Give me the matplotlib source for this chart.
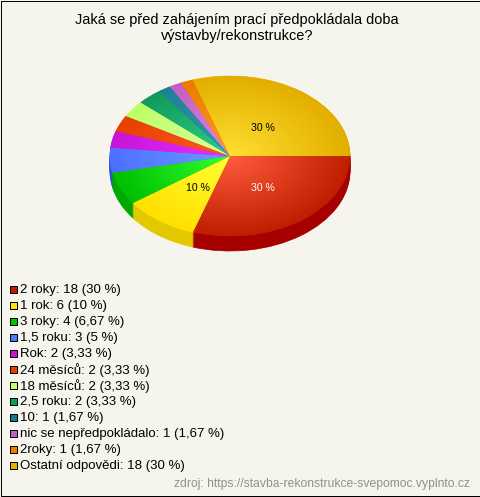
import matplotlib
matplotlib.use("Agg")
import matplotlib.pyplot as plt
import numpy as np
from matplotlib.colors import LinearSegmentedColormap
from matplotlib.patches import Rectangle

title = "Jaká se před zahájením prací předpokládala doba\nvýstavby/rekonstrukce?"
source = "zdroj: https://stavba-rekonstrukce-svepomoc.vyplnto.cz"
categories = ["2 roky", "1 rok", "3 roky", "1,5 roku", "Rok", "24 měsíců", "18 měsíců",
              "2,5 roku", "10", "nic se nepředpokládalo", "2roky", "Ostatní odpovědi"]
counts = [18, 6, 4, 3, 2, 2, 2, 2, 1, 1, 1, 18]
percents = ["30", "10", "6,67", "5", "3,33", "3,33", "3,33", "3,33", "1,67", "1,67", "1,67", "30"]
legend_colors = ["#bf1e00", "#ffe800", "#00c000", "#4d79ff", "#c814d8", "#e84000", "#c0ff70",
                 "#109a5c", "#1a7a96", "#c060c0", "#ee7a00", "#e6b000"]
center_colors = ["#ff5c3c", "#ffff33", "#33ff33", "#6c99ff", "#e533ff", "#ff5a22", "#dcff9c",
                 "#33cc88", "#3399aa", "#e088e8", "#ff9a22", "#ffe030"]
edge_colors = ["#bf1e00", "#ffe000", "#00bf00", "#4d70ff", "#c814d8", "#e84000", "#bcff66",
               "#109a5c", "#1f7f99", "#c060c0", "#ee7a00", "#e3ae00"]
side_colors = ["#a60000", "#e3c800", "#00a800", "#3355cc", "#a000b0", "#c03000", "#a0d860",
               "#0c7a48", "#156070", "#a040a0", "#c06000", "#c09000"]
shown_labels = {0: ("30 %", "white"), 1: ("10 %", "black"), 11: ("30 %", "black")}

W, H = 480, 497
bg = "#f5f4ed"
fig = plt.figure(figsize=(W / 100, H / 100), dpi=100, facecolor=bg)
plt.rcParams["font.family"] = ["Liberation Sans", "DejaVu Sans"]

# background axes in pixel coords, for the text and legend
page = fig.add_axes([0, 0, 1, 1])
page.set_xlim(0, W)
page.set_ylim(H, 0)
page.axis("off")
page.add_patch(Rectangle((0.5, 0.5), W - 1, H - 1.5, fill=False, ec="black", lw=0.72))
page.text(237, 28, title, ha="center", va="center", fontsize=10.45, linespacing=1.17)

# unit circle squeezed into an ellipse: x 110..350, y 76..236
cx, cy, rx, ry, depth = 230, 156, 120, 80, 15
ax = fig.add_axes([(cx - rx) / W, 1 - (cy + ry + depth) / H, 2 * rx / W, (2 * ry + depth) / H])
ax.patch.set_alpha(0)

for k in range(depth, 0, -1):
    walls, _ = ax.pie(counts, startangle=0, counterclock=False, radius=1,
                      center=(0, -k / ry), colors=side_colors,
                      wedgeprops=dict(linewidth=0.5))
    for w, c in zip(walls, side_colors):
        w.set_edgecolor(c)

wedges, _ = ax.pie(counts, startangle=0, counterclock=False, radius=1, colors=legend_colors,
                   wedgeprops=dict(linewidth=0.4))
for w, c in zip(wedges, legend_colors):
    w.set_edgecolor(c)

yy, xx = np.mgrid[-1:1:320j, -1:1:480j]
dist = np.clip(np.hypot(xx, yy), 0, 1)
for w, c0, c1 in zip(wedges, center_colors, edge_colors):
    cmap = LinearSegmentedColormap.from_list("wedge", [c0, c1])
    im = ax.imshow(dist, extent=(-1, 1, -1, 1), origin="lower", cmap=cmap, vmin=0, vmax=1,
                   aspect="auto", interpolation="bilinear", zorder=2)
    im.set_clip_path(w)

ax.set_xlim(-1, 1)
ax.set_ylim(-1 - depth / ry, 1)
ax.set_aspect("auto")
ax.axis("off")

# the big slices carry their share
total = sum(counts)
start = 0
for i, n in enumerate(counts):
    mid = np.radians(start + n / total * 180)
    start += n / total * 360
    if i in shown_labels:
        txt, col = shown_labels[i]
        ax.text(np.cos(mid) * 0.46, -np.sin(mid) * 0.46 - 2 / ry, txt, color=col, fontsize=7.6,
                ha="center", va="center", zorder=5)

# legend
for i, (name, n, p, c) in enumerate(zip(categories, counts, percents, legend_colors)):
    y = 289.2 + i * 16
    page.add_patch(Rectangle((9.5, y - 3.5), 7, 7, fc=c, ec="black", lw=0.72))
    page.text(20, y + 0.5, f"{name}: {n} ({p} %)", va="center", ha="left", fontsize=9.57)

page.text(470, 484.5, source, ha="right", va="center", fontsize=8.76, color="#909090")

fig.savefig("out.png", dpi=100, facecolor=bg)
